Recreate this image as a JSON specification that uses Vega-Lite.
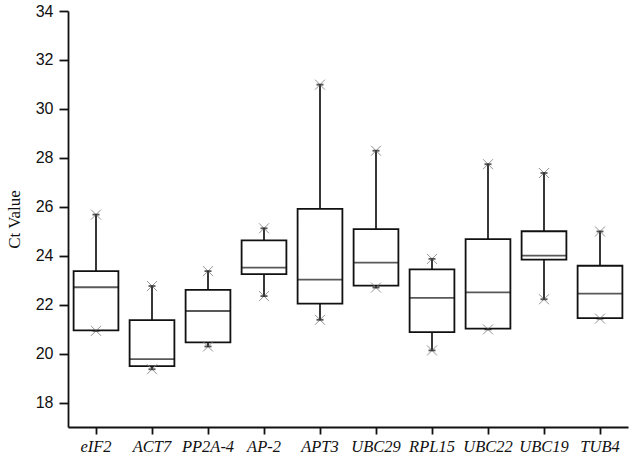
{
  "$schema": "https://vega.github.io/schema/vega-lite/v6.json",
  "width": 560,
  "height": 416,
  "autosize": {"type": "none"},
  "padding": {"left": 68, "top": 11, "right": 7, "bottom": 33},
  "background": "white",
  "config": {
    "view": {"stroke": null},
    "axis": {"grid": false, "domainColor": "#111", "domainWidth": 1.8, "tickColor": "#111", "tickWidth": 1.8}
  },
  "data": {
    "values": [
      {"gene": "eIF2", "min": 20.93, "q1": 20.95, "median": 22.71, "q3": 23.37, "max": 25.68},
      {"gene": "ACT7", "min": 19.36, "q1": 19.49, "median": 19.77, "q3": 21.37, "max": 22.76},
      {"gene": "PP2A-4", "min": 20.29, "q1": 20.46, "median": 21.74, "q3": 22.6, "max": 23.37},
      {"gene": "AP-2", "min": 22.35, "q1": 23.25, "median": 23.51, "q3": 24.63, "max": 25.12},
      {"gene": "APT3", "min": 21.38, "q1": 22.04, "median": 23.02, "q3": 25.91, "max": 30.99},
      {"gene": "UBC29", "min": 22.7, "q1": 22.78, "median": 23.72, "q3": 25.09, "max": 28.29},
      {"gene": "RPL15", "min": 20.13, "q1": 20.88, "median": 22.28, "q3": 23.44, "max": 23.87},
      {"gene": "UBC22", "min": 20.99, "q1": 21.02, "median": 22.5, "q3": 24.68, "max": 27.74},
      {"gene": "UBC19", "min": 22.22, "q1": 23.84, "median": 24.0, "q3": 25.0, "max": 27.38},
      {"gene": "TUB4", "min": 21.43, "q1": 21.45, "median": 22.45, "q3": 23.59, "max": 24.99}
    ]
  },
  "encoding": {
    "x": {
      "field": "gene", "type": "nominal", "sort": null,
      "scale": {"paddingInner": 0, "paddingOuter": 0},
      "axis": {
        "title": null, "labelAngle": 0, "labelFont": "Liberation Serif", "labelFontStyle": "italic",
        "labelFontSize": 16.5, "labelColor": "#111", "tickSize": 7, "labelPadding": 4
      }
    }
  },
  "layer": [
    {
      "mark": {"type": "rule", "color": "#222", "strokeWidth": 1.8},
      "encoding": {
        "y": {
          "field": "min", "type": "quantitative",
          "scale": {"domain": [17, 34], "nice": false, "zero": false},
          "axis": {
            "title": "Ct Value", "titleFont": "Liberation Serif", "titleFontSize": 17, "titleFontWeight": "normal",
            "titleColor": "#111", "titlePadding": 12,
            "values": [18,19,20,21,22,23,24,25,26,27,28,29,30,31,32,33,34],
            "labelExpr": "datum.value % 2 === 0 ? datum.label : ''",
            "labelFont": "Liberation Sans", "labelFontSize": 16, "labelColor": "#111",
            "tickSize": {"condition": {"test": "datum.value % 2 === 0", "value": 9}, "value": 5},
            "labelPadding": 6
          }
        },
        "y2": {"field": "q1"}
      }
    },
    {
      "mark": {"type": "rule", "color": "#222", "strokeWidth": 1.8},
      "encoding": {"y": {"field": "q3", "type": "quantitative"}, "y2": {"field": "max"}}
    },
    {
      "mark": {"type": "bar", "fill": "white", "stroke": "#111", "strokeWidth": 1.8, "width": {"band": 0.8}},
      "encoding": {"y": {"field": "q1", "type": "quantitative"}, "y2": {"field": "q3"}}
    },
    {
      "mark": {"type": "tick", "color": "#111", "thickness": 1.8, "size": 45},
      "encoding": {"y": {"field": "median", "type": "quantitative"}}
    },
    {
      "mark": {"type": "point", "shape": "M-1,-1L1,1M-1,1L1,-1", "filled": false, "stroke": "#888", "strokeWidth": 0.9, "size": 100, "opacity": 1},
      "encoding": {"y": {"field": "min", "type": "quantitative"}}
    },
    {
      "mark": {"type": "point", "shape": "M-1,-1L1,1M-1,1L1,-1", "filled": false, "stroke": "#888", "strokeWidth": 0.9, "size": 100, "opacity": 1},
      "encoding": {"y": {"field": "max", "type": "quantitative"}}
    },
    {
      "mark": {"type": "tick", "color": "#111", "thickness": 1.8, "size": 7},
      "encoding": {"y": {"field": "min", "type": "quantitative"}}
    },
    {
      "mark": {"type": "tick", "color": "#111", "thickness": 1.8, "size": 7},
      "encoding": {"y": {"field": "max", "type": "quantitative"}}
    }
  ]
}
